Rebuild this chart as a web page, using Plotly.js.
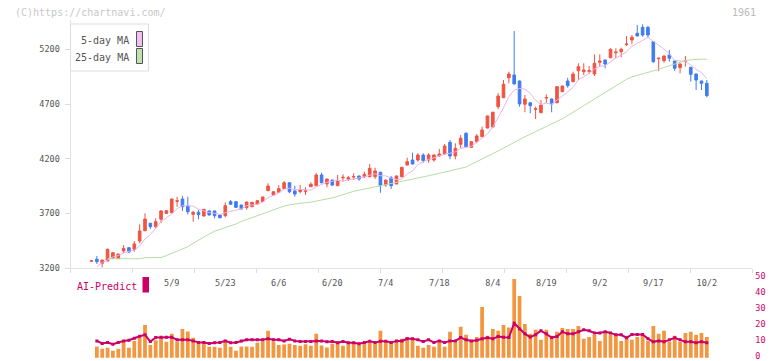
<!DOCTYPE html>
<html>
<head>
<meta charset="utf-8">
<script src="https://cdn.plot.ly/plotly-3.0.1.min.js"></script>
<style>html,body{margin:0;padding:0;background:#fff;}#chart{width:772px;height:361px;}</style>
</head>
<body>
<div id="chart"></div>
<script>
// ---- data ----
const opens  = [3262,3280,3243,3264,3289,3285,3356,3386,3371,3447,3541,3609,3578,3646,3700,3706,3810,3831,3767,3691,3710,3676,3722,3722,3685,3679,3807,3807,3776,3752,3761,3786,3807,3907,3868,3893,3926,3980,3905,3899,3902,3944,3953,4051,3969,4005,3953,4025,4012,4032,4042,4035,4035,4035,4076,3959,4026,3969,4035,4142,4188,4188,4234,4188,4188,4225,4243,4350,4225,4332,4433,4304,4356,4401,4481,4490,4676,4758,4941,4966,4911,4698,4712,4652,4621,4755,4746,4712,4813,4911,4905,5005,4996,5000,4975,5082,5103,5124,5170,5179,5244,5286,5348,5402,5402,5271,5115,5097,5149,5094,5033,5091,5036,4975,4911,4890];
const highs  = [3268,3310,3275,3378,3345,3330,3410,3390,3447,3600,3700,3614,3655,3730,3728,3835,3852,3859,3852,3722,3731,3740,3725,3725,3688,3801,3822,3810,3780,3807,3805,3820,3853,3975,3902,3959,3996,3985,3953,3959,3938,3984,4067,4072,4018,4008,4051,4057,4042,4067,4045,4081,4152,4118,4080,4008,4042,4046,4125,4209,4255,4250,4250,4250,4238,4289,4335,4371,4341,4417,4442,4360,4426,4493,4595,4630,4799,4920,4996,5369,4915,4783,4715,4676,4737,4789,4750,4863,4869,4941,4996,5073,5073,5048,5155,5155,5107,5210,5210,5216,5323,5332,5423,5430,5414,5275,5122,5143,5195,5097,5070,5140,5040,4978,4914,4920];
const lows   = [3258,3237,3206,3262,3285,3283,3335,3338,3349,3426,3538,3557,3563,3612,3696,3700,3761,3722,3691,3624,3646,3670,3680,3655,3655,3664,3780,3750,3736,3733,3757,3782,3804,3904,3865,3890,3922,3884,3852,3884,3868,3940,3950,3975,3938,3950,3950,3990,3996,4005,3999,4021,4030,4014,3889,3944,3923,3965,4032,4138,4148,4173,4163,4163,4173,4220,4240,4195,4195,4295,4305,4300,4341,4398,4478,4485,4652,4755,4890,4880,4676,4625,4616,4563,4617,4710,4625,4708,4810,4850,4900,4920,4966,4975,4957,5042,5027,5120,5119,5128,5231,5247,5320,5316,5307,5078,5003,5078,5088,5003,4981,5042,4905,4829,4829,4762];
const closes = [3266,3258,3273,3371,3340,3328,3380,3346,3420,3539,3648,3578,3624,3722,3724,3831,3815,3761,3715,3710,3688,3737,3685,3679,3660,3770,3783,3755,3740,3804,3801,3816,3850,3950,3898,3926,3980,3898,3877,3914,3907,3966,4051,3980,4014,3959,4002,4030,4026,4037,4014,4057,4112,4088,3953,4005,3953,4042,4121,4173,4152,4234,4182,4234,4234,4243,4316,4225,4295,4387,4310,4356,4408,4463,4591,4625,4774,4881,4975,4884,4701,4746,4685,4657,4691,4760,4701,4859,4865,4868,4975,5042,5012,5005,5073,5094,5067,5201,5176,5201,5249,5311,5323,5332,5332,5088,5120,5140,5119,5027,5067,5096,4972,4920,4890,4777];
// 5-day MA values before five closes exist in the window
const ma5Lead = [null,3214,3250,3273];
// 25-day MA
const ma25 = [null,null,null,3285,3285,3285,3285,3285,3285,3285,3294,3294,3294,3296,3314,3335,3353,3372,3394,3426,3456,3482,3511,3537,3552,3573,3589,3603,3626,3644,3661,3676,3694,3717,3734,3753,3767,3778,3787,3794,3798,3802,3811,3820,3829,3842,3855,3873,3889,3902,3912,3922,3932,3942,3951,3960,3970,3979,3987,3998,4009,4020,4032,4044,4055,4066,4076,4087,4098,4110,4124,4149,4172,4197,4222,4247,4271,4297,4324,4351,4378,4401,4424,4449,4473,4496,4519,4542,4565,4595,4627,4660,4691,4721,4749,4778,4809,4842,4870,4897,4927,4948,4961,4975,4990,5003,5018,5035,5052,5069,5088,5098,5105,5110,5111,5109];
// volume (lower panel) and AI-Predict line
const volume = [null,7.1,5.6,6.25,4.4,5.6,10,6.25,10.6,12.7,20.6,8.1,11,12.7,10,15,10.2,18.1,16.5,12.5,9.8,9,6.9,6.9,6.25,10.6,6.9,4.4,7.1,7.1,6.9,9.4,10.4,16.9,10.2,8.1,8.3,8.75,8.1,7.5,8.5,7.5,15,7.7,6.5,8.75,9.6,7.5,9,9.4,8.1,9,9.2,8.75,16.9,9.8,10,10.2,11.9,13.1,11.7,7.5,6.25,8.1,6.9,9.8,6.9,16.25,9.8,19.4,14.4,10.6,13.1,31.9,13.75,18.1,16.9,20.6,19,49.4,38.75,21.25,15,17.5,11.25,17.5,13.75,16.25,18.75,18.1,18.1,20,11.9,13.1,14.4,10.6,15.6,14.4,14.4,10.6,13.75,11.25,13.1,14.5,10.6,20,15,16.9,10,13.75,10,15.6,16.25,14.4,15.6,13.1];
const aiPredict = [null,10.6,9,9.6,8.5,9.6,10.6,11,12.3,13.5,14.4,10.2,12.7,12.9,12.9,12.9,11.25,11.25,11.25,10.6,9.6,9.6,9,9.4,9.6,10.6,9.4,9.6,10.6,11.25,11.25,11.25,11.25,11.9,11.25,11.25,10.6,11.7,10.6,10.2,10.2,10.2,10.6,10.6,10,10.2,9.4,10.2,9.4,9.4,8.75,9.6,10.4,9.6,10.4,10.4,9.6,10.6,10.6,11.9,11.9,11.25,10.2,11.25,9.6,10.6,9.6,10.6,10.6,12.7,11.25,10.6,11,11.9,12.5,11.9,13.3,12.9,12.7,21.7,18.1,15,13,14.5,17,15,12.7,13.3,16.25,15,15,16.25,17.5,16.9,15.6,15.6,16.25,15.6,14.4,14.4,12.5,14.6,14.6,14.6,12,10,10.6,10,11.25,12.5,11.25,10,10,9.4,10,9.4];
// date tick labels (trading-day index -> label)
const dateIdx = [15,25,35,45,55,65,75,85,95,105,115];
const dateLabels = ['5/9','5/23','6/6','6/20','7/4','7/18','8/4','8/19','9/2','9/17','10/2'];
const priceTicks = [3200,3700,4200,4700,5200];
const volTicks = [0,10,20,30,40,50];

// ---- derived ----
const idx = closes.map((_, i) => i);
const ma5 = closes.map((_, i) => {
  if (i < 4) return ma5Lead[i];
  let s = 0; for (let k = i - 4; k <= i; k++) s += closes[k];
  return s / 5;
});

// ---- layout helpers (pixel -> paper) ----
const W = 772, H = 361;
const px = v => v / W, py = v => 1 - v / H;
const xRange = [-3.925, 123.5];
const xDom = [px(70.5), px(752.3)];
const gridTicks = []; for (let k = 0; k <= 11; k++) gridTicks.push(xRange[0] + k * (xRange[1] - xRange[0]) / 11);
const mono = 'DejaVu Sans Mono, monospace';
// volume panel: 0 at y=358px, 50 at y=278px (1.6 px per unit); range padded by 2 units
const vPad = 2, vPx = 1.6;

const traces = [
  {type: 'candlestick', x: idx, open: opens, high: highs, low: lows, close: closes,
   xaxis: 'x', yaxis: 'y', whiskerwidth: 0,
   increasing: {line: {color: '#f05442', width: 1}, fillcolor: '#f05442'},
   decreasing: {line: {color: '#3f7cf0', width: 1}, fillcolor: '#3f7cf0'},
   showlegend: false, hoverinfo: 'skip'},
  {type: 'scatter', mode: 'lines', x: idx, y: ma5, xaxis: 'x', yaxis: 'y',
   line: {color: '#e8b4ee', width: 1}, showlegend: false, hoverinfo: 'skip'},
  {type: 'scatter', mode: 'lines', x: idx, y: ma25, xaxis: 'x', yaxis: 'y',
   line: {color: '#b6dca4', width: 1}, showlegend: false, hoverinfo: 'skip'},
  {type: 'bar', x: idx, y: volume, xaxis: 'x2', yaxis: 'y2',
   marker: {color: '#f29640', line: {width: 0}}, showlegend: false, hoverinfo: 'skip'},
  {type: 'scatter', mode: 'lines+markers', x: idx, y: aiPredict, xaxis: 'x2', yaxis: 'y2',
   line: {color: '#cc0066', width: 2}, marker: {symbol: 'square', size: 3, color: '#cc0066'},
   showlegend: false, hoverinfo: 'skip'}
];

const layout = {
  width: W, height: H,
  margin: {l: 0, r: 0, t: 0, b: 0, pad: 0},
  paper_bgcolor: '#fff', plot_bgcolor: 'rgba(0,0,0,0)',
  showlegend: false, bargap: 0.3,
  font: {family: mono, color: '#555', size: 9},
  xaxis: {domain: xDom, range: xRange, anchor: 'y', rangeslider: {visible: false},
    showgrid: false, zeroline: false, showline: true, linecolor: '#e2e2e2', linewidth: 1,
    tickmode: 'array', tickvals: dateIdx, ticktext: dateLabels, ticks: '', ticklabelstandoff: 7,
    tickfont: {family: mono, size: 8.5, color: '#555'},
    minor: {tickmode: 'array', tickvals: gridTicks, ticks: 'outside', ticklen: 4, tickcolor: '#dcdcdc', showgrid: false}},
  yaxis: {domain: [py(268), py(20)], range: [3200, 3200 + 248 * 9.15], anchor: 'x',
    showgrid: false, zeroline: false, showline: true, linecolor: '#e2e2e2', linewidth: 1,
    tickvals: priceTicks, ticktext: priceTicks.map(String), ticks: 'outside', ticklen: 5, tickcolor: '#dcdcdc',
    tickfont: {family: mono, size: 8.5, color: '#555'}, ticklabelstandoff: 3},
  xaxis2: {domain: xDom, range: xRange, anchor: 'y2',
    showgrid: false, zeroline: false, showline: false, ticks: '', showticklabels: false},
  yaxis2: {domain: [py(358 + vPad * vPx), py(278 - vPad * vPx)], range: [-vPad, 50 + vPad], anchor: 'x2', side: 'right',
    showgrid: false, zeroline: false, showline: false, ticks: '',
    tickvals: volTicks, ticktext: volTicks.map(String), ticklabeloverflow: 'allow', ticklabelshift: -2,
    tickfont: {family: mono, size: 8.5, color: '#cc0066'}, ticklabelstandoff: 2},
  shapes: [
    {type: 'rect', xref: 'paper', yref: 'paper', x0: px(70.5), x1: px(148.5), y0: py(71), y1: py(24),
     line: {color: '#dddddd', width: 1}, fillcolor: '#ffffff', layer: 'above'},
    {type: 'rect', xref: 'paper', yref: 'paper', x0: px(136.5), x1: px(142.5), y0: py(46.5), y1: py(31.5),
     line: {color: '#555', width: 1}, fillcolor: '#f0c0f0', layer: 'above'},
    {type: 'rect', xref: 'paper', yref: 'paper', x0: px(136.5), x1: px(142.5), y0: py(63.5), y1: py(48.5),
     line: {color: '#555', width: 1}, fillcolor: '#c0e0b0', layer: 'above'},
    {type: 'rect', xref: 'paper', yref: 'paper', x0: px(142.5), x1: px(149), y0: py(292.5), y1: py(277),
     line: {width: 0}, fillcolor: '#cc0066', layer: 'above'}
  ],
  annotations: [
    {text: '(C)https://chartnavi.com/', xref: 'paper', yref: 'paper', x: px(13), y: py(12),
     xanchor: 'left', yanchor: 'middle', showarrow: false, font: {family: mono, size: 10, color: '#c8c8c8'}},
    {text: '1961', xref: 'paper', yref: 'paper', x: px(758), y: py(12),
     xanchor: 'right', yanchor: 'middle', showarrow: false, font: {family: mono, size: 10, color: '#bbbbbb'}},
    {text: '5-day MA', xref: 'paper', yref: 'paper', x: px(131), y: py(40),
     xanchor: 'right', yanchor: 'middle', showarrow: false, font: {family: mono, size: 10, color: '#555'}},
    {text: '25-day MA', xref: 'paper', yref: 'paper', x: px(131), y: py(57),
     xanchor: 'right', yanchor: 'middle', showarrow: false, font: {family: mono, size: 10, color: '#555'}},
    {text: 'AI-Predict', xref: 'paper', yref: 'paper', x: px(74.5), y: py(286),
     xanchor: 'left', yanchor: 'middle', showarrow: false, font: {family: mono, size: 10, color: '#cc0066'}}
  ]
};

Plotly.newPlot('chart', traces, layout, {displayModeBar: false, staticPlot: true});
</script>
</body>
</html>
